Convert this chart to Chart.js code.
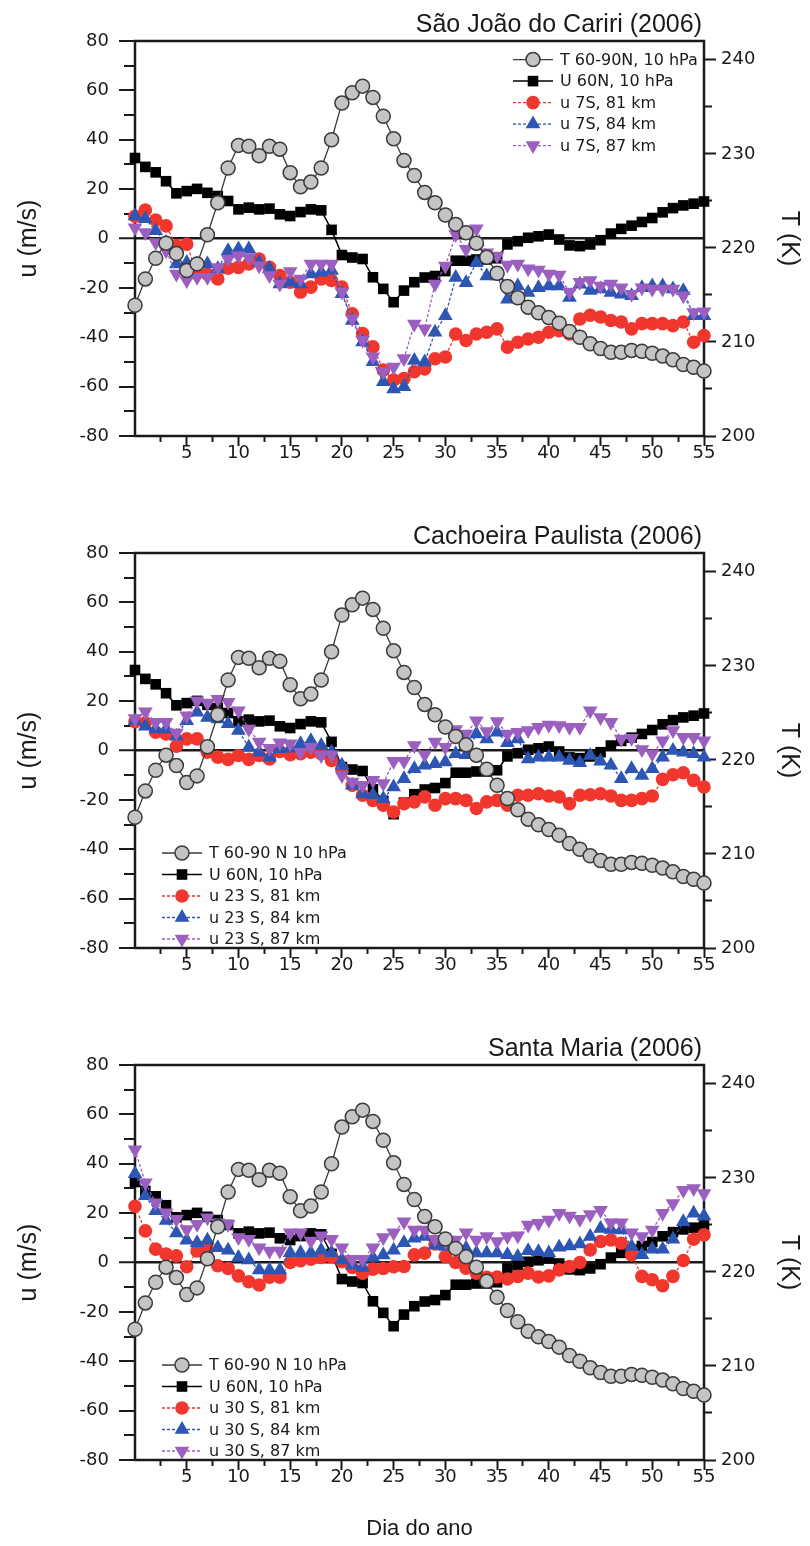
<!DOCTYPE html>
<html>
<head>
<meta charset="utf-8">
<title>Dia do ano</title>
<script src="https://cdn.jsdelivr.net/npm/chart.js@4.4.1/dist/chart.umd.min.js"></script>
<style>
  body { margin: 0; background: #fff; }
  .panel { position: relative; width: 810px; }
</style>
</head>
<body>
<div class="panel" style="height:512px"><canvas id="chart1"></canvas></div>
<div class="panel" style="height:512px"><canvas id="chart2"></canvas></div>
<div class="panel" style="height:522px"><canvas id="chart3"></canvas></div>
<script>
// Day of year
const days = [0, 1, 2, 3, 4, 5, 6, 7, 8, 9, 10, 11, 12, 13, 14, 15, 16, 17, 18, 19,
  20, 21, 22, 23, 24, 25, 26, 27, 28, 29, 30, 31, 32, 33, 34, 35, 36, 37, 38, 39,
  40, 41, 42, 43, 44, 45, 46, 47, 48, 49, 50, 51, 52, 53, 54, 55];

// T 60-90N, 10 hPa (K) - same in all panels
const tempT = [213.9, 216.7, 218.9, 220.5, 219.4, 217.6, 218.3, 221.4, 224.8, 228.5,
  230.9, 230.8, 229.8, 230.8, 230.5, 228.0, 226.5, 227.0, 228.5, 231.5,
  235.4, 236.5, 237.2, 236.0, 234.0, 231.6, 229.3, 227.7, 225.9, 224.8,
  223.5, 222.5, 221.6, 220.5, 219.0, 217.3, 215.9, 214.7, 213.7, 213.1,
  212.6, 212.0, 211.1, 210.5, 209.8, 209.3, 208.9, 208.9, 209.1, 209.0,
  208.8, 208.5, 208.1, 207.6, 207.3, 206.9];

// U 60N, 10 hPa (m/s) - same in all panels
const windU = [32.6, 29.0, 26.8, 23.2, 18.3, 19.2, 20.1, 18.5, 17.2, 15.2,
  11.8, 12.5, 11.8, 12.1, 9.8, 9.1, 10.7, 11.8, 11.4, 3.5,
  -6.7, -7.7, -8.3, -15.7, -20.4, -25.8, -21.1, -17.7, -15.8, -15.2,
  -13.2, -9.0, -9.0, -8.5, -8.5, -8.0, -2.4, -1.1, 0.3, 0.9,
  1.6, -0.4, -2.8, -3.1, -2.4, -0.7, 2.0, 3.9, 5.2, 6.7,
  8.3, 10.6, 12.3, 13.4, 14.1, 15.0];

// São João do Cariri, 7S
const sjc81 = [9.0, 11.5, 7.5, 5.1, -3.0, -2.3, -14.0, -14.5, -16.4, -12.0,
  -11.7, -10.3, -8.3, -11.7, -15.0, -17.7, -21.7, -19.7, -16.4, -17.0,
  -19.7, -30.5, -38.5, -43.9, -53.3, -57.3, -56.7, -54.0, -52.8, -48.7,
  -48.0, -38.7, -41.3, -38.7, -38.0, -36.6, -44.0, -42.0, -40.7, -40.0,
  -38.0, -37.3, -38.7, -32.6, -31.1, -31.8, -33.2, -33.8, -36.6, -34.5,
  -34.5, -34.5, -35.3, -33.8, -42.0, -39.3];
const sjc84 = [9.1, 8.0, 3.1, -1.6, -10.3, -9.7, -10.3, -10.3, -12.3, -5.0,
  -4.3, -4.3, -9.7, -12.3, -18.4, -17.7, -18.4, -14.4, -13.7, -13.0,
  -22.4, -33.2, -41.9, -49.9, -58.0, -61.0, -60.0, -49.4, -50.0, -38.0,
  -31.3, -15.8, -17.9, -9.8, -15.2, -15.2, -24.6, -19.2, -21.9, -19.9,
  -19.2, -19.2, -23.9, -18.5, -21.1, -20.5, -21.9, -22.6, -23.2, -19.9,
  -19.2, -19.2, -20.5, -21.2, -31.3, -31.3];
const sjc87 = [4.4, 2.4, -1.6, -5.0, -14.4, -17.0, -15.7, -15.7, -11.7, -8.3,
  -7.0, -7.7, -11.0, -15.0, -18.4, -13.4, -16.4, -10.3, -10.3, -10.3,
  -21.7, -32.5, -41.2, -47.9, -54.0, -52.0, -48.6, -34.6, -36.6, -18.4,
  -11.1, 1.6, -4.4, 3.9, -5.8, -7.1, -10.7, -10.3, -12.3, -12.8,
  -14.4, -14.8, -21.7, -17.7, -17.0, -19.2, -18.4, -19.9, -22.6, -19.9,
  -20.5, -20.5, -20.5, -23.2, -30.0, -29.7];

// Cachoeira Paulista, 23S
const cp81 = [11.7, 11.2, 7.4, 6.7, 1.7, 4.7, 4.7, -0.7, -2.7, -3.6,
  -2.0, -3.6, -2.0, -3.4, -0.4, -1.7, -1.3, -0.7, -1.3, -4.0,
  -7.4, -14.1, -18.1, -20.2, -22.2, -24.9, -21.5, -20.8, -18.8, -22.2,
  -19.5, -19.5, -20.2, -23.5, -20.8, -20.2, -22.2, -18.1, -18.1, -17.5,
  -18.4, -18.8, -21.5, -18.1, -17.9, -17.5, -18.4, -20.2, -20.2, -19.5,
  -18.4, -11.7, -9.8, -9.0, -12.1, -14.8];
const cp84 = [12.1, 9.8, 8.7, 8.7, 5.8, 12.1, 15.5, 13.4, 12.8, 10.8,
  8.1, 1.3, -0.7, -2.7, 0.7, 0.9, 2.7, 4.0, 2.0, -0.7,
  -6.0, -14.1, -17.5, -17.9, -19.5, -14.8, -11.4, -7.4, -6.0, -5.4,
  -4.7, -1.3, -1.7, 6.7, 4.7, 7.4, 3.1, 4.7, -3.4, -2.7,
  -2.7, -2.7, -4.0, -5.0, -2.0, -4.4, -6.0, -11.4, -7.4, -10.1,
  -7.4, -2.7, 0.0, -0.7, -1.3, -2.7];
const cp87 = [13.0, 15.7, 11.4, 11.4, 7.1, 14.1, 20.2, 19.2, 20.8, 19.5,
  16.1, 8.7, 3.4, 0.9, 3.1, 2.7, -0.7, 1.3, -2.0, -1.7,
  -10.1, -12.8, -14.1, -12.1, -13.4, -4.4, -4.4, 2.0, -1.7, 3.4,
  1.3, 8.5, 6.7, 12.1, 7.7, 11.7, 6.7, 7.4, 8.1, 9.4,
  10.3, 10.1, 9.4, 9.4, 16.1, 13.4, 11.4, 4.7, 5.0, 0.4,
  -1.3, 4.0, 8.1, 5.4, 5.4, 4.0];

// Santa Maria, 30S
const sm81 = [22.8, 12.8, 5.4, 3.4, 2.7, -1.7, 4.7, 5.4, -1.3, -2.4,
  -5.4, -7.8, -9.1, -6.0, -6.0, 0.0, 0.7, 1.3, 2.0, 2.4,
  0.3, -2.0, -4.3, -2.7, -2.4, -1.7, -1.6, 3.1, 3.8, 7.5,
  2.4, 0.0, -2.3, -4.3, -6.0, -5.9, -6.7, -5.6, -4.3, -5.9,
  -5.4, -3.0, -1.6, 0.0, 5.1, 8.5, 9.1, 7.8, 3.1, -5.6,
  -7.0, -9.4, -5.6, 0.8, 9.4, 11.2];
const sm84 = [36.0, 27.0, 21.0, 17.0, 12.0, 9.0, 8.0, 9.0, 6.0, 5.0,
  2.0, 1.0, -3.0, -3.0, -3.0, 4.0, 4.0, 4.0, 5.0, 4.0,
  1.0, -1.0, -2.0, 2.0, 3.0, 5.0, 8.0, 9.8, 10.5, 7.1,
  6.5, 7.5, 5.8, 3.8, 3.8, 3.8, 3.1, 2.4, 4.8, 4.4,
  3.8, 6.2, 6.7, 7.5, 10.5, 13.8, 13.4, 13.2, 6.5, 3.1,
  5.4, 5.4, 9.4, 16.5, 19.9, 18.8];
const sm87 = [45.7, 32.3, 24.2, 20.2, 17.5, 13.4, 15.5, 18.1, 16.1, 15.5,
  10.1, 9.4, 6.0, 4.7, 4.7, 12.1, 12.1, 8.7, 10.8, 9.4,
  6.0, 1.3, 1.3, 6.0, 10.1, 12.1, 16.5, 13.2, 13.2, 9.4,
  8.5, 9.1, 12.1, 9.1, 10.5, 8.5, 10.5, 10.8, 15.2, 15.9,
  17.2, 19.9, 18.8, 17.5, 19.4, 21.2, 16.1, 16.1, 12.1, 10.5,
  13.2, 19.9, 23.9, 29.3, 30.0, 28.0];

// Axis ranges
const dayRange = [0, 55];
const uRange = [-80, 80];
const tRange = [200, 242];

const INK = '#1a1a1a';
const tickFont = { family: '"DejaVu Sans", sans-serif', size: 18, lineHeight: 1 };
const titleFont = { family: '"Liberation Sans", Arial, sans-serif', size: 25 };

// Draws the plot frame
const framePlugin = {
    id: 'frame',
    beforeDatasetsDraw(chart) {
        const { ctx, chartArea: a } = chart;
        ctx.save();
        ctx.strokeStyle = INK;
        ctx.lineWidth = 2.5;
        ctx.strokeRect(a.left, a.top, a.right - a.left, a.bottom - a.top);
        ctx.restore();
    }
};

// Station title above the right end of the plot
const panelTitle = {
    id: 'panelTitle',
    afterDraw(chart, args, opts) {
        const { ctx, chartArea } = chart;
        ctx.save();
        ctx.font = '25px "Liberation Sans", Arial, sans-serif';
        ctx.fillStyle = INK;
        ctx.textAlign = 'right';
        ctx.textBaseline = 'alphabetic';
        ctx.fillText(opts.text, chartArea.right - 2, chartArea.top - 9);
        ctx.restore();
    }
};

// Legend drawn inside the plot, line + marker + text
const insideLegend = {
    id: 'insideLegend',
    afterDraw(chart, args, opts) {
        const { ctx, chartArea } = chart;
        const x0 = chartArea.left + opts.x;
        const y0 = chartArea.top + opts.y;
        ctx.save();
        chart.data.datasets.forEach((ds, i) => {
            const y = y0 + i * opts.rowHeight;
            ctx.strokeStyle = ds.borderColor;
            ctx.lineWidth = ds.borderWidth;
            ctx.setLineDash(ds.borderDash || []);
            ctx.beginPath();
            ctx.moveTo(x0, y);
            ctx.lineTo(x0 + 40, y);
            ctx.stroke();
            ctx.setLineDash([]);
            ctx.fillStyle = ds.pointBackgroundColor;
            ctx.strokeStyle = ds.pointBorderColor;
            ctx.lineWidth = ds.pointBorderWidth;
            Chart.helpers.drawPoint(ctx, {
                pointStyle: ds.pointStyle,
                rotation: ds.pointRotation || 0,
                radius: ds.pointRadius,
                borderWidth: ds.pointBorderWidth
            }, x0 + 20, y);
            ctx.fillStyle = INK;
            ctx.font = '16px "DejaVu Sans", sans-serif';
            ctx.textBaseline = 'middle';
            ctx.fillText(ds.label, x0 + 47, y + 1);
        });
        ctx.restore();
    }
};

function points(values) {
    return days.map((d, i) => ({ x: d, y: values[i] }));
}

function makePanel(id, title, labels, u81, u84, u87, legendPos, lastPanel) {
    const datasets = [
        {
            label: labels[0], data: points(tempT), yAxisID: 'y1', order: 0,
            borderColor: '#3a3a3a', borderWidth: 1.3,
            pointStyle: 'circle', pointRadius: 7, pointBorderWidth: 1.5,
            pointBackgroundColor: '#c4c4c4', pointBorderColor: '#3a3a3a'
        },
        {
            label: labels[1], data: points(windU), yAxisID: 'y', order: 4,
            borderColor: '#000', borderWidth: 1.5,
            pointStyle: 'rect', pointRadius: 7.5, pointBorderWidth: 0,
            pointBackgroundColor: '#000', pointBorderColor: '#000'
        },
        {
            label: labels[2], data: points(u81), yAxisID: 'y', order: 3,
            borderColor: '#f0362d', borderWidth: 1.3, borderDash: [3, 2],
            pointStyle: 'circle', pointRadius: 6.8, pointBorderWidth: 0,
            pointBackgroundColor: '#f0362d', pointBorderColor: '#f0362d'
        },
        {
            label: labels[3], data: points(u84), yAxisID: 'y', order: 2,
            borderColor: '#2d55b4', borderWidth: 1.3, borderDash: [3, 2],
            pointStyle: 'triangle', pointRadius: 8.5, pointBorderWidth: 0,
            pointBackgroundColor: '#2d55b4', pointBorderColor: '#2d55b4'
        },
        {
            label: labels[4], data: points(u87), yAxisID: 'y', order: 1,
            borderColor: '#9b5fc0', borderWidth: 1.3, borderDash: [3, 2],
            pointStyle: 'triangle', pointRotation: 180, pointRadius: 8.5, pointBorderWidth: 0,
            pointBackgroundColor: '#9b5fc0', pointBorderColor: '#9b5fc0'
        }
    ];
    datasets.forEach(ds => { ds.clip = false; ds.tension = 0; ds.fill = false; });

    return new Chart(document.getElementById(id), {
        type: 'line',
        data: { datasets: datasets },
        plugins: [framePlugin, panelTitle, insideLegend],
        options: {
            responsive: true,
            maintainAspectRatio: false,
            animation: false,
            events: [],
            layout: { padding: { top: 41, left: 0, right: 0, bottom: 0 } },
            plugins: {
                legend: { display: false },
                tooltip: { enabled: false },
                panelTitle: { text: title },
                insideLegend: { x: legendPos[0], y: legendPos[1], rowHeight: 21.5 }
            },
            scales: {
                x: {
                    type: 'linear', min: dayRange[0], max: dayRange[1],
                    afterFit: s => { s.height = lastPanel ? 86 : 76; },
                    border: { display: false },
                    grid: {
                        drawOnChartArea: false, tickLength: 10, tickWidth: 2,
                        tickColor: c => c.tick.value === 0 ? 'rgba(0,0,0,0)' : INK,
                        tickBorderDash: c => c.tick.value % 5 === 0 ? [] : [6, 100]
                    },
                    ticks: {
                        stepSize: 2.5, autoSkip: false, maxRotation: 0, padding: -2,
                        font: tickFont, color: INK,
                        callback: v => (v > 0 && v % 5 === 0) ? String(v) : ''
                    },
                    title: {
                        display: lastPanel, text: 'Dia do ano', color: INK,
                        font: { family: titleFont.family, size: 22 },
                        padding: { top: 0, bottom: 4 }
                    }
                },
                y: {
                    position: 'left', min: uRange[0], max: uRange[1],
                    afterFit: s => { s.width = 135; },
                    border: { display: false },
                    grid: {
                        color: c => c.tick.value === 0 ? INK : 'rgba(0,0,0,0)',
                        lineWidth: c => c.tick.value === 0 ? 2.5 : 0,
                        tickLength: 16, tickWidth: 2, tickColor: INK,
                        tickBorderDash: c => c.tick.value % 20 === 0 ? [] : [0, 5, 11, 100]
                    },
                    ticks: {
                        stepSize: 10, autoSkip: false, padding: 10,
                        font: tickFont, color: INK,
                        callback: v => v % 20 === 0 ? String(v) : ''
                    },
                    title: {
                        display: true, text: 'u (m/s)', color: INK, font: titleFont,
                        padding: { top: 14, bottom: 0 }
                    }
                },
                y1: {
                    position: 'right', min: tRange[0], max: tRange[1],
                    afterFit: s => { s.width = 106; },
                    border: { display: false },
                    grid: {
                        drawOnChartArea: false, tickLength: 12, tickWidth: 2, tickColor: INK,
                        tickBorderDash: c => c.tick.value % 10 === 0 ? [] : [8, 100]
                    },
                    ticks: {
                        stepSize: 5, includeBounds: false, autoSkip: false, padding: 5,
                        font: tickFont, color: INK,
                        callback: v => v % 10 === 0 ? String(v) : ''
                    },
                    title: {
                        display: true, text: 'T (K)', color: INK, font: titleFont,
                        padding: { top: 6, bottom: 0 }
                    }
                }
            }
        }
    });
}

makePanel('chart1', 'São João do Cariri (2006)',
    ['T 60-90N, 10 hPa', 'U 60N, 10 hPa', 'u 7S, 81 km', 'u 7S, 84 km', 'u 7S, 87 km'],
    sjc81, sjc84, sjc87, [378, 18.6], false);

makePanel('chart2', 'Cachoeira Paulista (2006)',
    ['T 60-90 N 10 hPa', 'U 60N, 10 hPa', 'u 23 S, 81 km', 'u 23 S, 84 km', 'u 23 S, 87 km'],
    cp81, cp84, cp87, [27, 300], false);

makePanel('chart3', 'Santa Maria (2006)',
    ['T 60-90 N 10 hPa', 'U 60N, 10 hPa', 'u 30 S, 81 km', 'u 30 S, 84 km', 'u 30 S, 87 km'],
    sm81, sm84, sm87, [27, 300], true);
</script>
</body>
</html>
